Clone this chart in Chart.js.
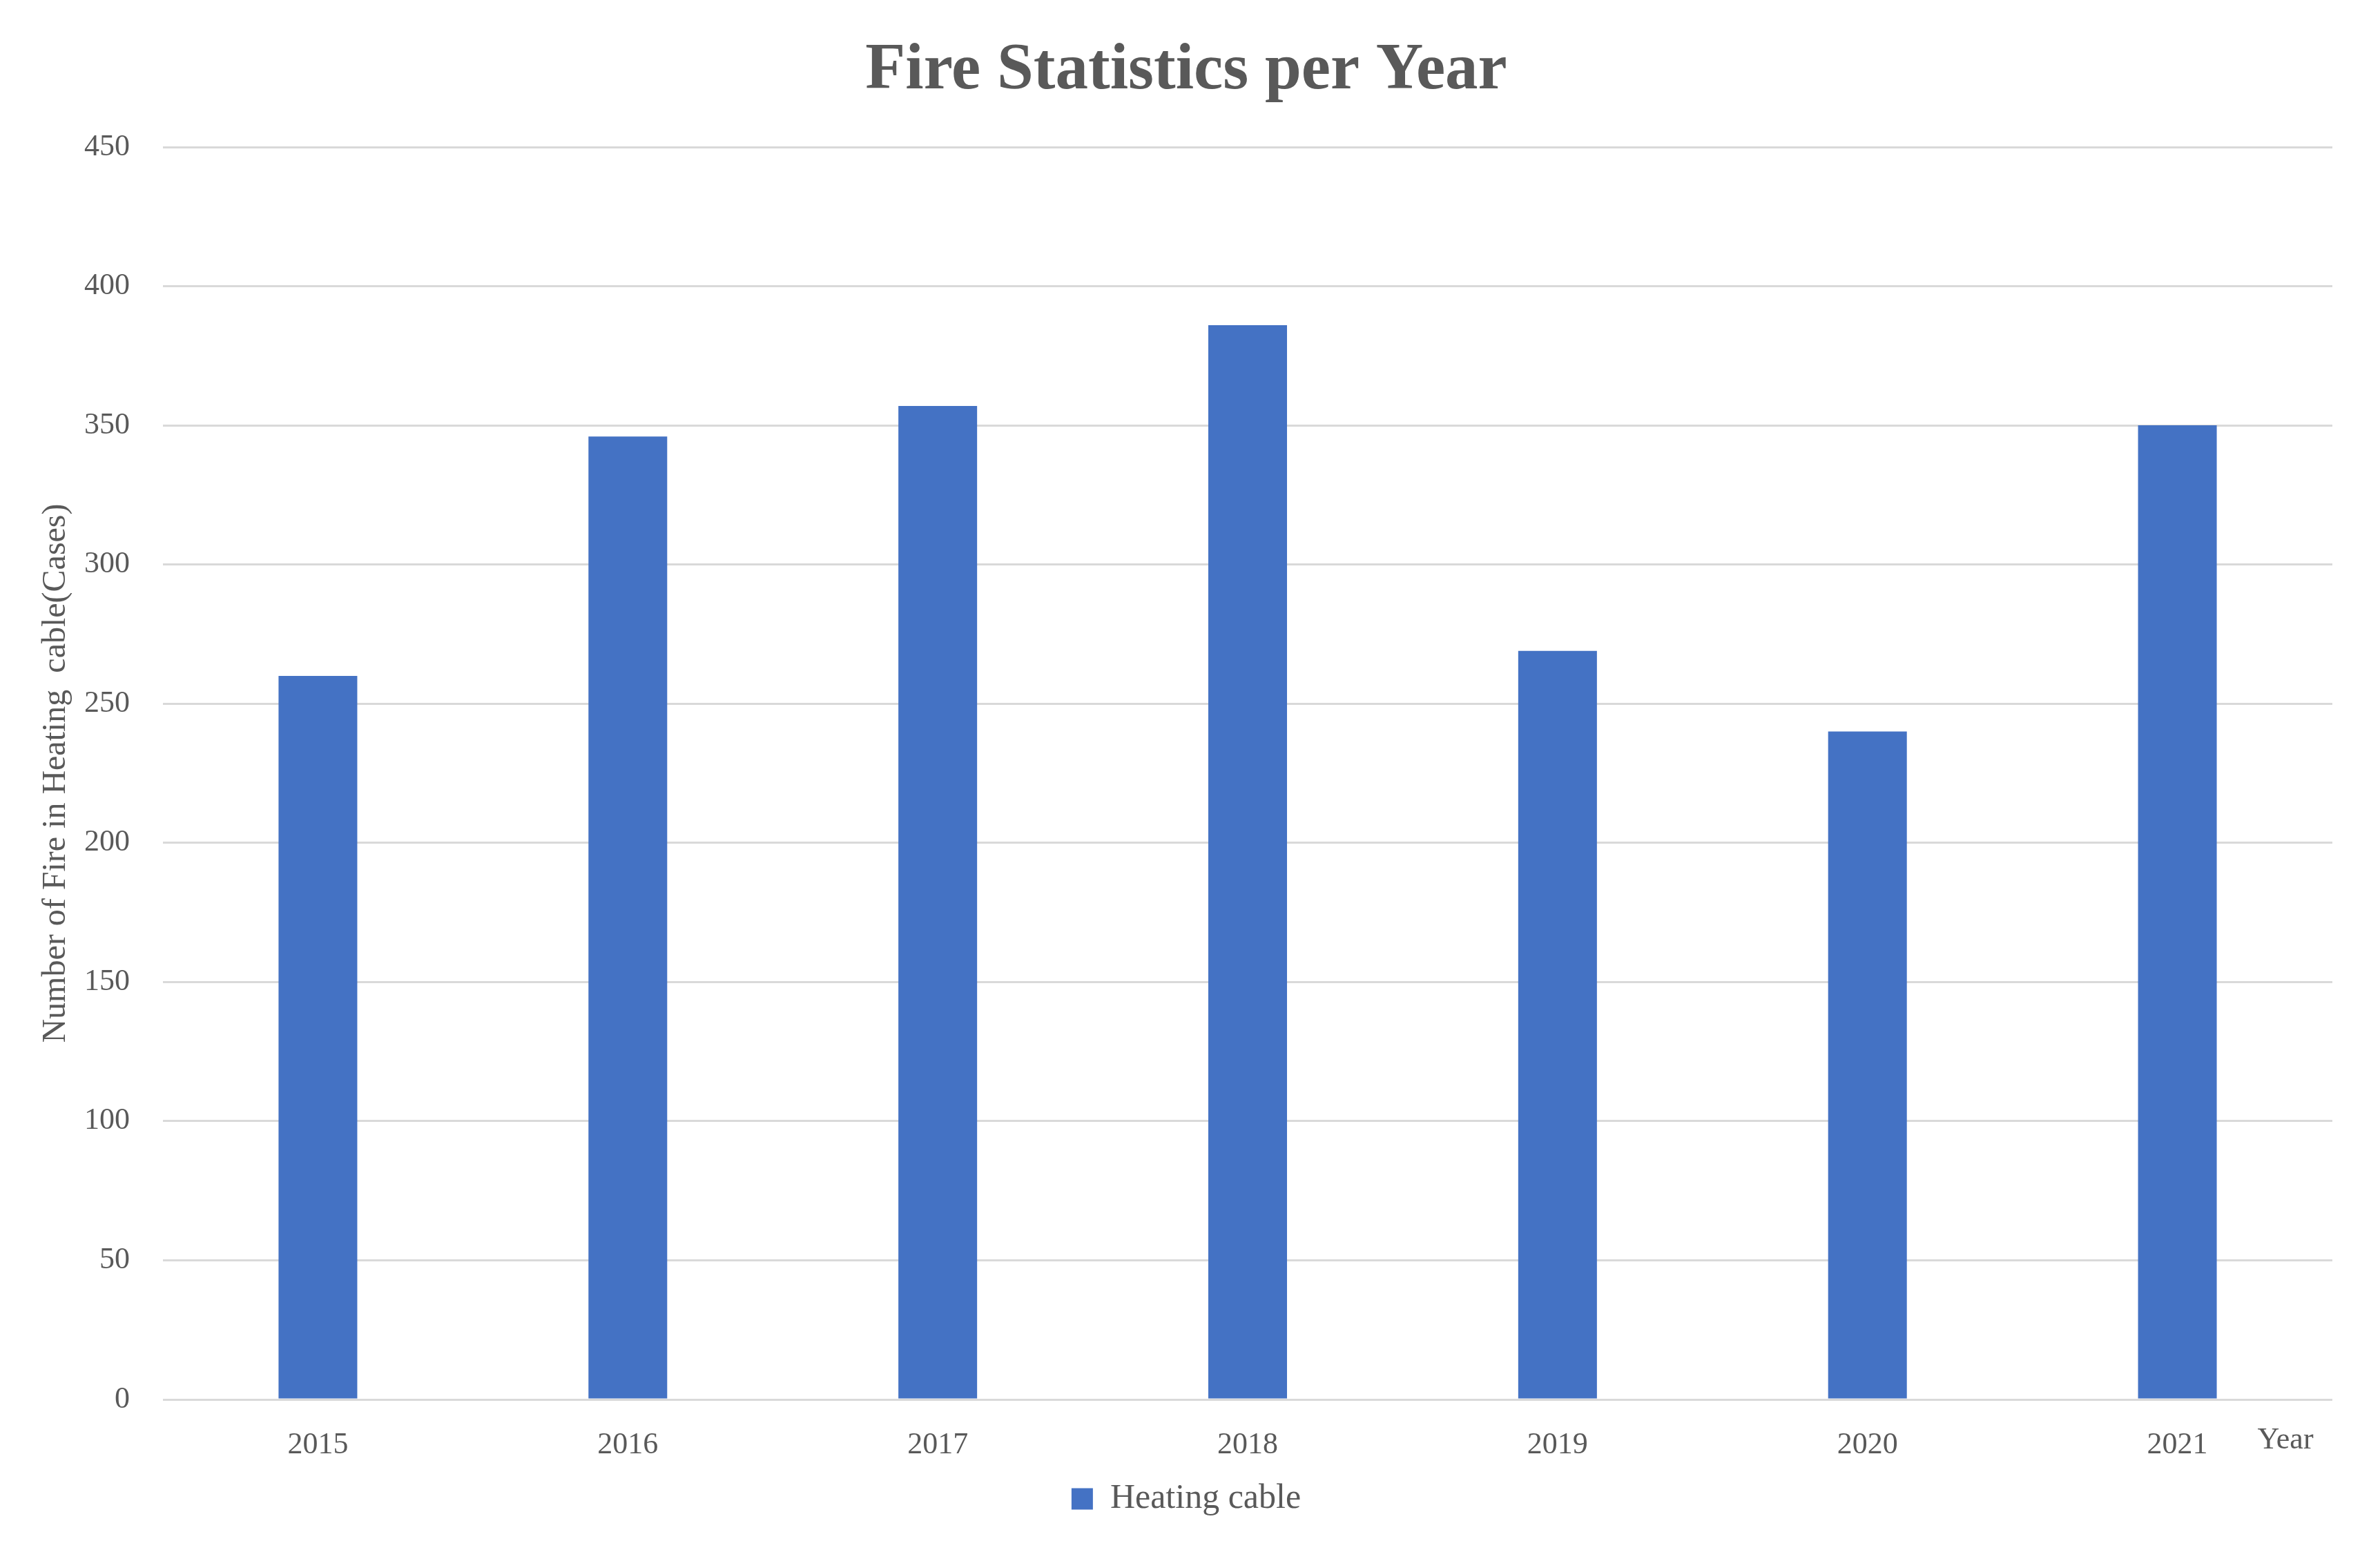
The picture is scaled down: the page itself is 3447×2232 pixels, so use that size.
<!DOCTYPE html>
<html>
<head>
<meta charset="utf-8">
<title>Fire Statistics per Year</title>
<script src="https://cdn.jsdelivr.net/npm/chart.js@4"></script>
<style>
    html, body { margin: 0; padding: 0; background: #ffffff; }
    #chart { display: block; }
</style>
</head>
<body>
<canvas id="chart" width="3447" height="2232"></canvas>
<script>
// data
const years = ['2015', '2016', '2017', '2018', '2019', '2020', '2021'];
const heatingCable = [260, 346, 357, 386, 269, 240, 350];
const yTicks = [0, 50, 100, 150, 200, 250, 300, 350, 400, 450];

const textColor = '#595959';
const fontFamily = '"Liberation Serif", "Times New Roman", serif';

// "Year" sits on the tick row, just right of the last category
const yearLabel = {
    id: 'yearLabel',
    afterDraw(chart) {
        const { ctx, chartArea } = chart;
        ctx.save();
        ctx.font = '44px ' + fontFamily;
        ctx.fillStyle = textColor;
        ctx.textAlign = 'center';
        ctx.textBaseline = 'alphabetic';
        ctx.fillText('Year', chartArea.right - 68, chartArea.bottom + 71);
        ctx.restore();
    }
};

const ctx = document.getElementById('chart').getContext('2d');
new Chart(ctx, {
    type: 'bar',
    data: {
        labels: years,
        datasets: [{
            label: 'Heating cable',
            data: heatingCable,
            backgroundColor: '#4472C4',
            borderWidth: 0,
            categoryPercentage: 1,
            barPercentage: 0.254
        }]
    },
    options: {
        responsive: false,
        devicePixelRatio: 1,
        animation: false,
        layout: {
            padding: { top: 0, right: 69, bottom: 26, left: 58 }
        },
        plugins: {
            title: {
                display: true,
                text: 'Fire Statistics per Year',
                color: textColor,
                font: { family: fontFamily, size: 95, weight: 'bold', lineHeight: 1.2 },
                padding: { top: 46, bottom: 53 }
            },
            legend: {
                position: 'bottom',
                labels: {
                    color: textColor,
                    font: { family: fontFamily, size: 50 },
                    boxWidth: 31,
                    boxHeight: 31,
                    padding: 10
                }
            },
            tooltip: { enabled: false }
        },
        scales: {
            x: {
                grid: { display: false, drawTicks: false },
                border: { display: false },
                ticks: {
                    color: textColor,
                    font: { family: fontFamily, size: 44 },
                    padding: 40,
                    maxRotation: 0
                },
                afterFit(scale) { scale.height = 109; }
            },
            y: {
                min: 0,
                max: 450,
                afterBuildTicks(scale) {
                    scale.ticks = yTicks.map(v => ({ value: v }));
                },
                grid: { color: '#d9d9d9', lineWidth: 3, drawTicks: false },
                border: { display: false },
                ticks: {
                    color: textColor,
                    font: { family: fontFamily, size: 44 },
                    padding: 48
                },
                title: {
                    display: true,
                    text: 'Number of Fire in Heating  cable(Cases)',
                    color: textColor,
                    font: { family: fontFamily, size: 48, lineHeight: 1.2 },
                    padding: { top: -5, bottom: 0 }
                },
                afterFit(scale) { scale.width = 178; }
            }
        }
    },
    plugins: [yearLabel]
});
</script>
</body>
</html>
